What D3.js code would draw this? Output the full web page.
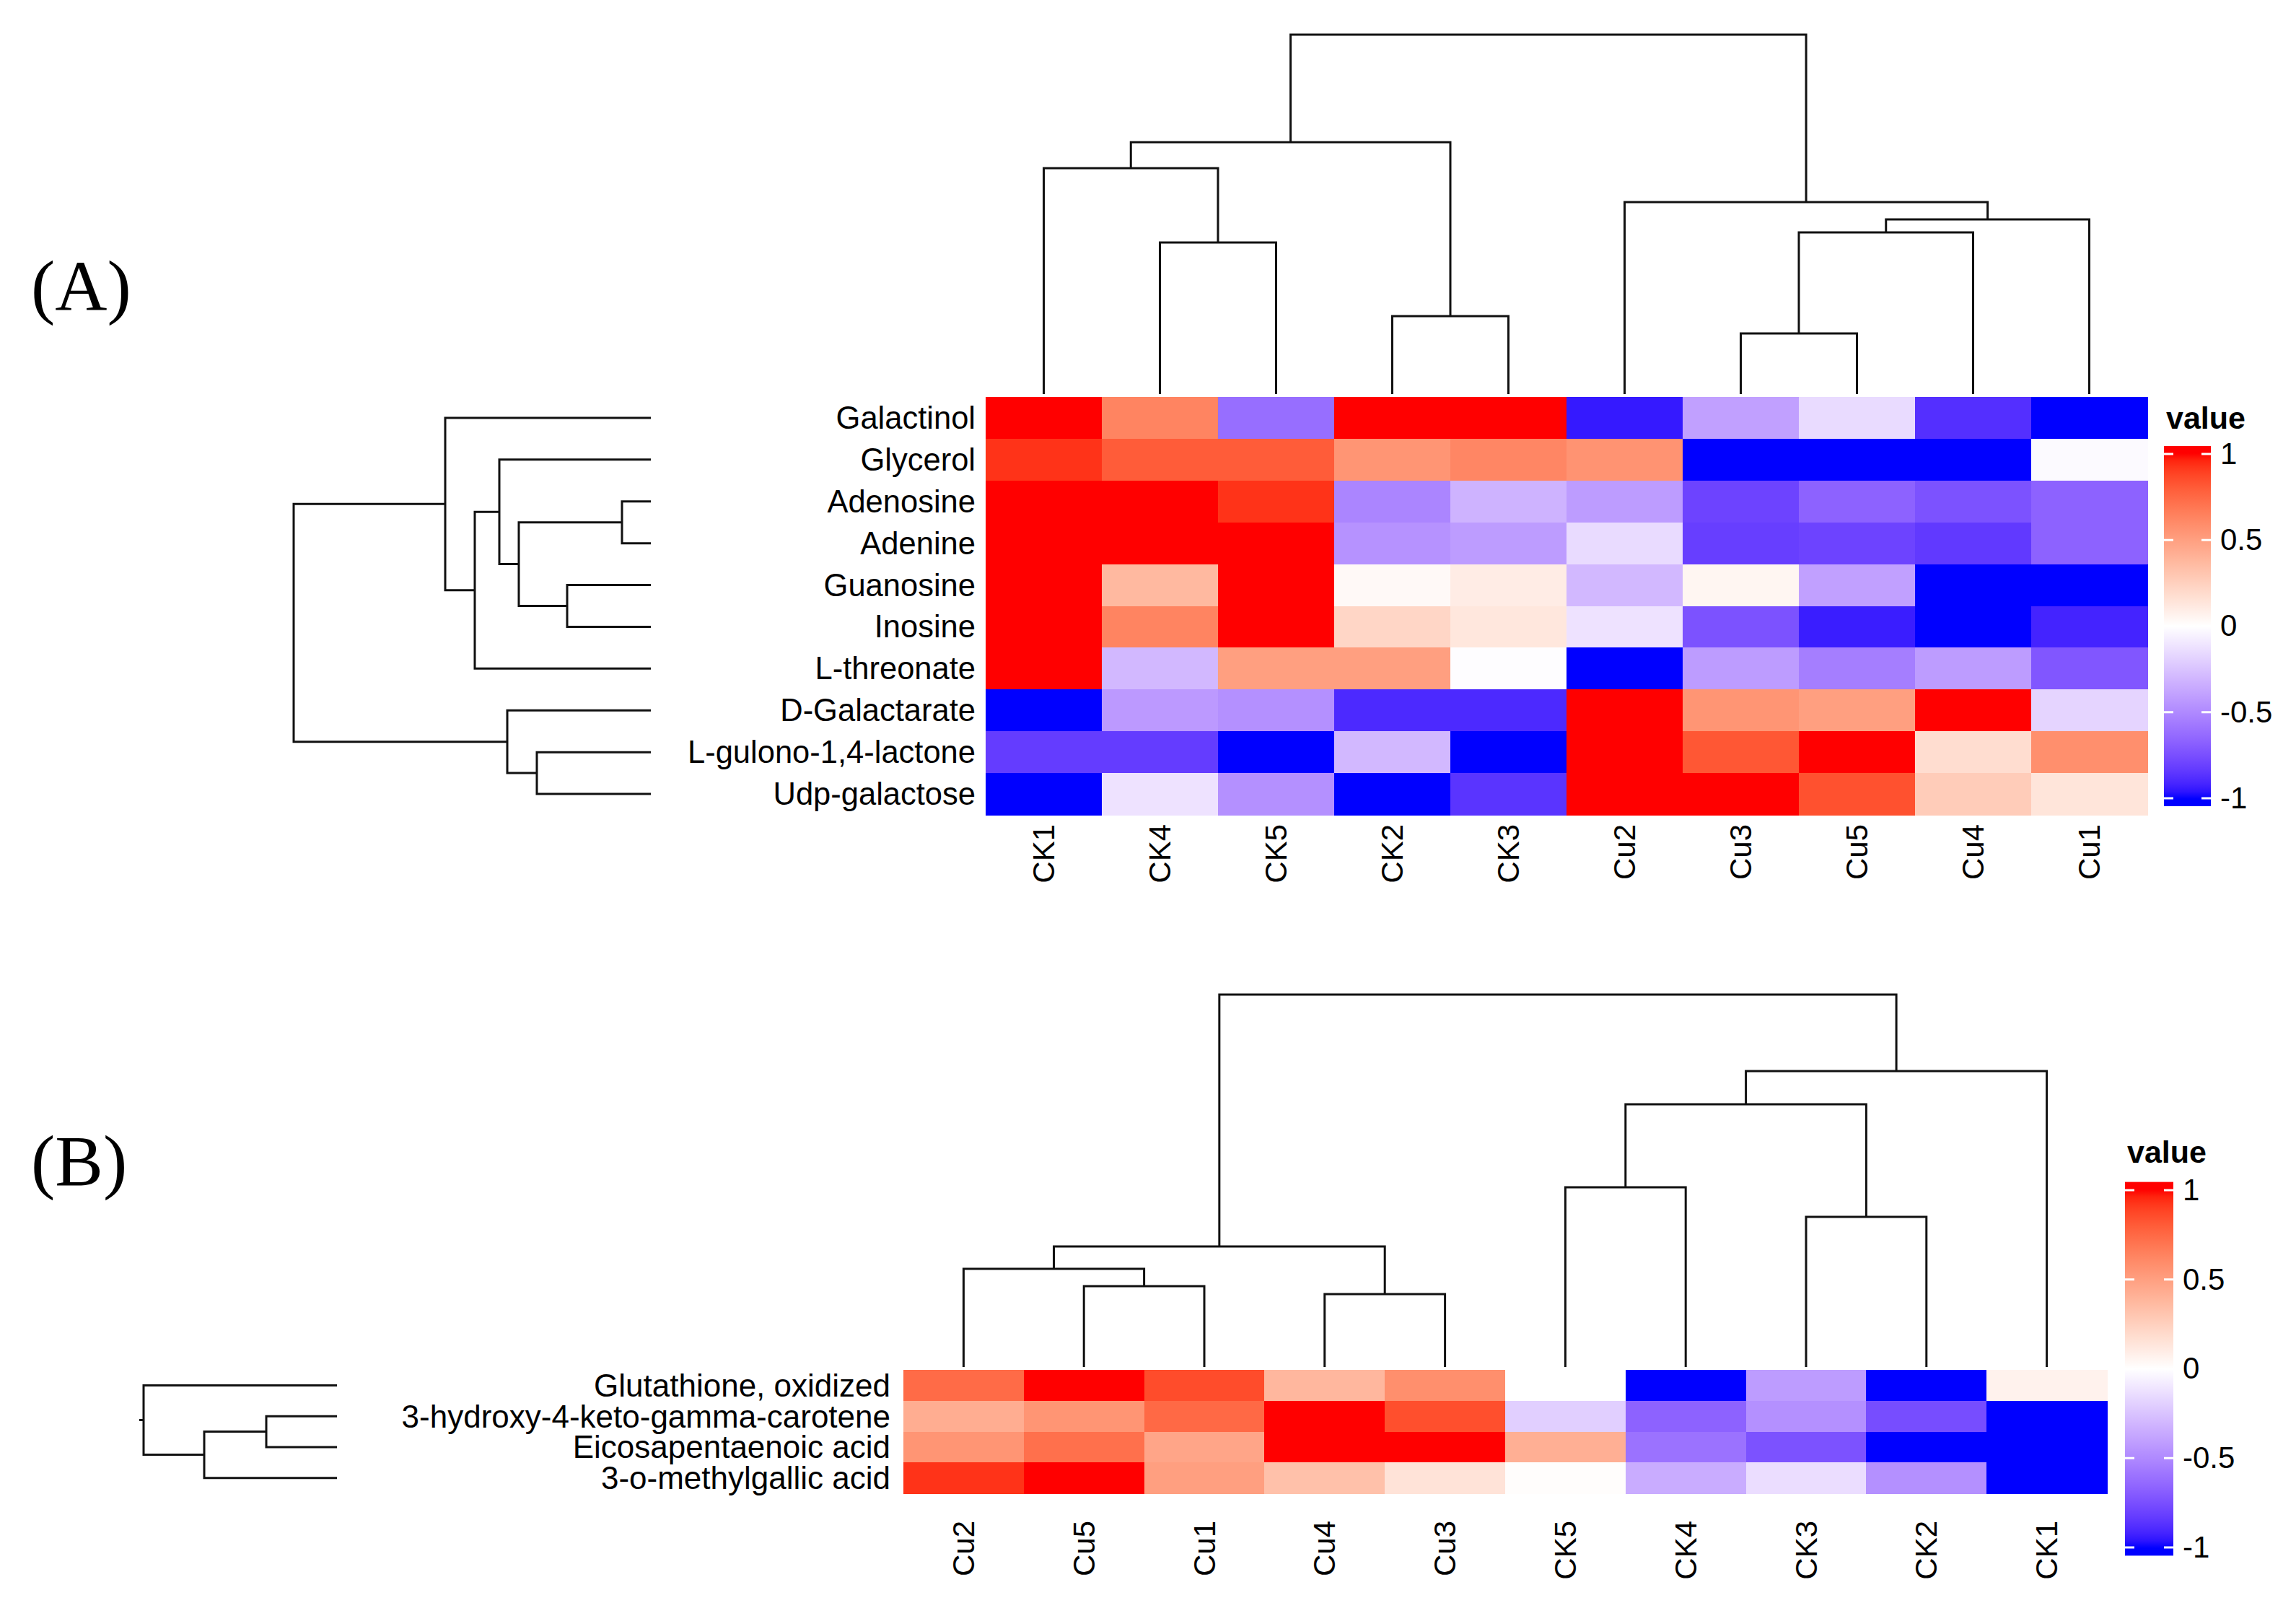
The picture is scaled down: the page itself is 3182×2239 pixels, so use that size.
<!DOCTYPE html>
<html>
<head>
<meta charset="utf-8">
<script src="https://cdn.jsdelivr.net/npm/d3@7"></script>
<style>
  body { margin: 0; background: #fff; }
</style>
</head>
<body>
<script>
var canvasWidth = 3182;
var canvasHeight = 2239;
var sansFont = "'Liberation Sans', Arial, sans-serif";
var serifFont = "'Liberation Serif', 'Times New Roman', serif";

// ---- panel A data ----
var rowsA = ["Galactinol", "Glycerol", "Adenosine", "Adenine", "Guanosine", "Inosine",
  "L-threonate", "D-Galactarate", "L-gulono-1,4-lactone", "Udp-galactose"];
var colsA = ["CK1", "CK4", "CK5", "CK2", "CK3", "Cu2", "Cu3", "Cu5", "Cu4", "Cu1"];
var valuesA = [
  [1, 0.63, -0.62, 1, 1, -0.95, -0.4, -0.15, -0.88, -1],
  [0.93, 0.8, 0.8, 0.55, 0.62, 0.56, -1, -1, -1, -0.02],
  [1, 1, 0.93, -0.52, -0.32, -0.42, -0.8, -0.67, -0.74, -0.67],
  [1, 1, 1, -0.46, -0.42, -0.15, -0.82, -0.8, -0.84, -0.67],
  [1, 0.37, 1, 0.03, 0.1, -0.3, 0.05, -0.4, -1, -1],
  [1, 0.63, 1, 0.22, 0.13, -0.12, -0.74, -0.94, -1, -0.92],
  [1, -0.3, 0.5, 0.5, -0.01, -1, -0.42, -0.55, -0.42, -0.72],
  [-1, -0.43, -0.47, -0.9, -0.9, 1, 0.55, 0.5, 1, -0.18],
  [-0.83, -0.83, -1, -0.3, -1, 1, 0.82, 1, 0.18, 0.58],
  [-1, -0.12, -0.47, -1, -0.86, 1, 1, 0.84, 0.27, 0.14]
];
// dendrograms as [height, left, right]
var colTreeA = [4.98,
  [3.49, [3.13, "CK1", [2.10, "CK4", "CK5"]], [1.08, "CK2", "CK3"]],
  [2.66, "Cu2", [2.42, [2.24, [0.84, "Cu3", "Cu5"], "Cu4"], "Cu1"]]];
var rowTreeA = [4.95,
  [2.85, "Galactinol",
    [2.44, [2.10, "Glycerol", [1.83, [0.40, "Adenosine", "Adenine"], [1.16, "Guanosine", "Inosine"]]], "L-threonate"]],
  [1.99, "D-Galactarate", [1.58, "L-gulono-1,4-lactone", "Udp-galactose"]]];

// ---- panel B data ----
var rowsB = ["Glutathione, oxidized", "3-hydroxy-4-keto-gamma-carotene",
  "Eicosapentaenoic acid", "3-o-methylgallic acid"];
var colsB = ["Cu2", "Cu5", "Cu1", "Cu4", "Cu3", "CK5", "CK4", "CK3", "CK2", "CK1"];
var valuesB = [
  [0.74, 1, 0.86, 0.38, 0.58, 0, -1, -0.42, -1, 0.07],
  [0.43, 0.55, 0.75, 1, 0.85, -0.2, -0.67, -0.47, -0.76, -1],
  [0.55, 0.72, 0.47, 1, 1, 0.42, -0.6, -0.74, -1, -1],
  [0.93, 1, 0.5, 0.33, 0.15, 0.01, -0.35, -0.14, -0.47, -1]
];
var colTreeB = [5.16,
  [1.67, [1.36, "Cu2", [1.12, "Cu5", "Cu1"]], [1.01, "Cu4", "Cu3"]],
  [4.10, [3.64, [2.49, "CK5", "CK4"], [2.08, "CK3", "CK2"]], "CK1"]];
var rowTreeB = [2.68, "Glutathione, oxidized",
  [1.84, [0.98, "3-hydroxy-4-keto-gamma-carotene", "Eicosapentaenoic acid"], "3-o-methylgallic acid"]];

var legendTicks = [-1, -0.5, 0, 0.5, 1];

var svg = d3.select("body").append("svg")
    .attr("width", canvasWidth)
    .attr("height", canvasHeight);

svg.append("rect").attr("width", canvasWidth).attr("height", canvasHeight).attr("fill", "#fff");

var colorScale = d3.scaleLinear()
    .domain([-1, 0, 1])
    .range(["#0000FF", "#FFFFFF", "#FF0000"])
    .interpolate(d3.interpolateLab)
    .clamp(true);

function toNode(n) {
  if (typeof n === "string") return { name: n, h: 0 };
  return { h: n[0], children: [toNode(n[1]), toNode(n[2])] };
}

// top = true for the column dendrogram (above), false for the row dendrogram (left)
function drawTree(g, tree, band, hScale, top) {
  var root = d3.hierarchy(toNode(tree));
  root.eachAfter(function(d) {
    d.pos = d.children ? d3.mean(d.children, c => c.pos) : band(d.data.name) + band.bandwidth() / 2;
  });
  g.selectAll("path.link")
    .data(root.descendants().filter(d => d.children))
    .join("path")
    .attr("class", "link")
    .attr("fill", "none")
    .attr("stroke", "#111")
    .attr("stroke-width", 3)
    .attr("d", function(d) {
      var a = d.children[0], b = d.children[1];
      if (top) {
        return "M" + a.pos + "," + hScale(a.data.h) + "V" + hScale(d.data.h) +
               "H" + b.pos + "V" + hScale(b.data.h);
      }
      return "M" + hScale(a.data.h) + "," + a.pos + "H" + hScale(d.data.h) +
             "V" + b.pos + "H" + hScale(b.data.h);
    });
  return root;
}

function drawHeatmap(p) {
  var g = svg.append("g");
  var xBand = d3.scaleBand().domain(p.cols).range([p.left, p.right]);
  var yBand = d3.scaleBand().domain(p.rows).range([p.top, p.bottom]);

  // cells
  p.values.forEach(function(row, i) {
    g.selectAll(null).data(row).enter().append("rect")
      .attr("x", (d, j) => xBand(p.cols[j]))
      .attr("y", yBand(p.rows[i]))
      .attr("width", xBand.bandwidth() + 0.6)
      .attr("height", yBand.bandwidth() + 0.6)
      .attr("fill", d => colorScale(d))
      .attr("shape-rendering", "crispEdges");
  });

  // row labels
  g.selectAll("text.rowlab").data(p.rows).enter().append("text")
    .attr("class", "rowlab")
    .attr("x", p.rowLabelX)
    .attr("y", d => yBand(d) + yBand.bandwidth() / 2)
    .attr("text-anchor", "end")
    .attr("dominant-baseline", "central")
    .style("font-family", sansFont)
    .style("font-size", p.rowFont + "px")
    .text(d => d);

  // column labels (rotated)
  g.selectAll("text.collab").data(p.cols).enter().append("text")
    .attr("class", "collab")
    .attr("transform", d => "translate(" + (xBand(d) + xBand.bandwidth() / 2) + "," + p.colLabelY + ") rotate(-90)")
    .attr("text-anchor", "end")
    .attr("dominant-baseline", "central")
    .style("font-family", sansFont)
    .style("font-size", "42px")
    .text(d => d);

  // dendrograms
  var colH = d3.scaleLinear().domain([0, p.colTree[0]]).range([p.top - 4, p.colRootY]);
  drawTree(g.append("g"), p.colTree, xBand, colH, true);
  var rowH = d3.scaleLinear().domain([0, p.rowTree[0]]).range([p.rowLeafX, p.rowRootX]);
  var rroot = drawTree(g.append("g"), p.rowTree, yBand, rowH, false);
  if (p.rootStub) {
    g.append("path").attr("fill", "none").attr("stroke", "#111").attr("stroke-width", 3)
      .attr("d", "M" + rowH(p.rowTree[0]) + "," + rroot.pos + "H" + (rowH(p.rowTree[0]) - p.rootStub));
  }

  // legend
  var lg = svg.append("g");
  var ls = d3.scaleLinear().domain([-1, 1]).range([p.legBottom, p.legTop]);
  var barTop = ls(1.046), barBottom = ls(-1.046);
  var gradId = "grad" + p.id;
  var grad = svg.append("defs").append("linearGradient")
      .attr("id", gradId).attr("x1", 0).attr("y1", 0).attr("x2", 0).attr("y2", 1);
  d3.range(0, 1.0001, 0.02).forEach(function(t) {
    grad.append("stop").attr("offset", t)
      .attr("stop-color", colorScale(ls.invert(barTop + t * (barBottom - barTop))));
  });
  lg.append("rect")
    .attr("x", p.legX).attr("y", barTop)
    .attr("width", p.legW).attr("height", barBottom - barTop)
    .attr("fill", "url(#" + gradId + ")");
  lg.selectAll("line.tl").data(legendTicks).enter().append("line")
    .attr("x1", p.legX).attr("x2", p.legX + 13)
    .attr("y1", d => ls(d)).attr("y2", d => ls(d))
    .attr("stroke", "#fff").attr("stroke-width", 3);
  lg.selectAll("line.tr").data(legendTicks).enter().append("line")
    .attr("x1", p.legX + p.legW - 13).attr("x2", p.legX + p.legW)
    .attr("y1", d => ls(d)).attr("y2", d => ls(d))
    .attr("stroke", "#fff").attr("stroke-width", 3);
  var ax = lg.append("g")
    .attr("transform", "translate(" + (p.legX + p.legW) + ",0)")
    .call(d3.axisRight(ls).tickValues(legendTicks).tickSize(0).tickPadding(13).tickFormat(d => String(d)));
  ax.select(".domain").remove();
  ax.selectAll("text")
    .style("font-size", "42px")
    .style("font-family", sansFont)
    .attr("fill", "#000");
  lg.append("text")
    .attr("x", p.legX + 3).attr("y", p.legTitleY)
    .style("font-family", sansFont)
    .style("font-size", "43px")
    .style("font-weight", "bold")
    .text("value");

  // panel letter
  svg.append("text")
    .attr("x", 43).attr("y", p.letterY)
    .style("font-family", serifFont)
    .style("font-size", "100px")
    .text(p.letter);
}

drawHeatmap({
  id: "A", letter: "(A)", letterY: 430,
  rows: rowsA, cols: colsA, values: valuesA, colTree: colTreeA, rowTree: rowTreeA,
  left: 1366, right: 2976, top: 550, bottom: 1129,
  rowLabelX: 1352, rowFont: 43.5, colLabelY: 1142,
  colRootY: 48, rowLeafX: 902, rowRootX: 407,
  legX: 2999, legW: 65, legTop: 629, legBottom: 1106, legTitleY: 594
});

drawHeatmap({
  id: "B", letter: "(B)", letterY: 1642,
  rows: rowsB, cols: colsB, values: valuesB, colTree: colTreeB, rowTree: rowTreeB,
  left: 1252, right: 2920, top: 1898, bottom: 2069,
  rowLabelX: 1234, rowFont: 44, colLabelY: 2107,
  colRootY: 1378, rowLeafX: 467, rowRootX: 199, rootStub: 6,
  legX: 2945, legW: 67, legTop: 1649, legBottom: 2144, legTitleY: 1611
});
</script>
</body>
</html>
